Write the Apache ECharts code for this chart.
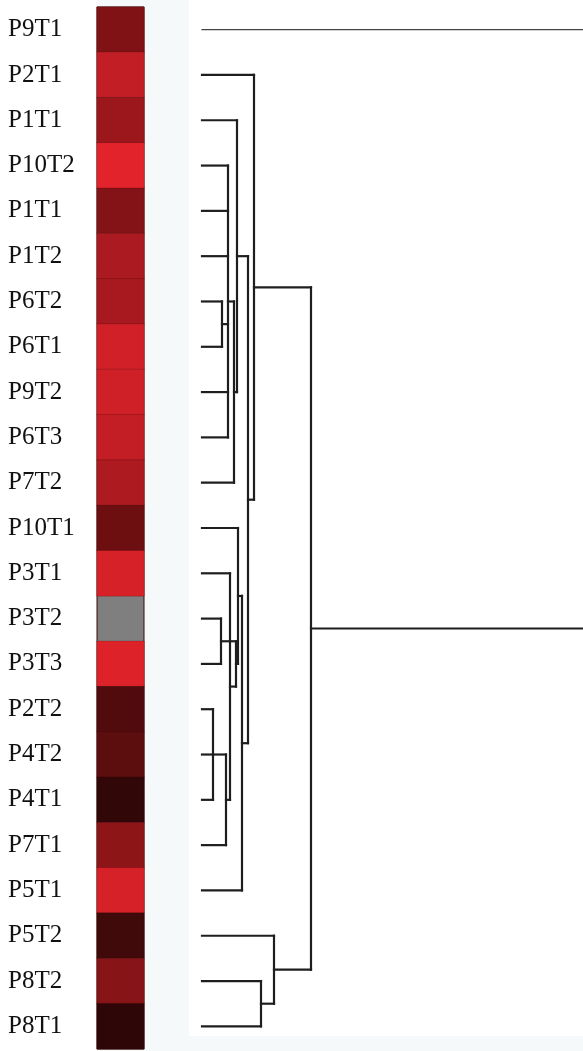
<!DOCTYPE html>
<html>
<head>
<meta charset="utf-8">
<script src="https://cdn.jsdelivr.net/npm/echarts@6/dist/echarts.min.js"></script>
<style>
  html, body { margin: 0; padding: 0; background: #f5f9f9; }
  #chart { width: 583px; height: 1051px; }
</style>
</head>
<body>
<div id="chart"></div>
<script>
// sample names, top to bottom
const leaves = ['P9T1', 'P2T1', 'P1T1', 'P10T2', 'P1T1', 'P1T2', 'P6T2', 'P6T1', 'P9T2', 'P6T3', 'P7T2',
  'P10T1', 'P3T1', 'P3T2', 'P3T3', 'P2T2', 'P4T2', 'P4T1', 'P7T1', 'P5T1', 'P5T2', 'P8T2', 'P8T1'];

// heat values (0 = darkest, 1 = brightest red), null = missing (grey)
const heatValues = [0.42, 0.75, 0.55, 0.97, 0.43, 0.62, 0.6, 0.85, 0.84, 0.76, 0.63,
  0.33, 0.88, null, 0.93, 0.2, 0.25, 0.05, 0.48, 0.88, 0.12, 0.45, 0.04];

// clustering: children of each merge (leaf index or earlier merge id = 23 + k) and merge height
const mergeKids = [
  [6, 7],               // 23
  [3, 4, 5, 23, 8, 9],  // 24
  [24, 10],             // 25
  [2, 25],              // 26
  [13, 14],             // 27
  [15, 16, 17],         // 28
  [28, 18],             // 29
  [12, 29],             // 30
  [27, 30],             // 31
  [11, 31],             // 32
  [32, 19],             // 33
  [26, 33],             // 34
  [1, 34],              // 35
  [21, 22],             // 36
  [20, 36],             // 37
  [35, 37],             // 38
  [0, 38]               // 39 root
];
const mergeHeights = [2.0, 2.6, 3.2, 3.5, 1.9, 1.1, 2.4, 2.8, 3.4, 3.6, 4.0, 4.6, 5.2, 5.9, 7.2, 10.9, 50];

// build dendrogram segments from the tree
const pos = leaves.map((_, i) => ({ x: 0, y: i }));
const segs = [];
mergeKids.forEach((kids, k) => {
  const h = mergeHeights[k];
  const ys = kids.map(c => pos[c].y);
  const lo = Math.min(...ys), hi = Math.max(...ys);
  kids.forEach(c => {
    segs.push([pos[c].x, pos[c].y, h, pos[c].y, c === 0 ? 1 : 0]);
  });
  segs.push([h, lo, h, hi, 0]);
  pos.push({ x: h, y: (lo + hi) / 2 });
});

const heatData = heatValues.map((v, i) => [0, i, v == null ? '-' : v]);

const chart = echarts.init(document.getElementById('chart'));
chart.setOption({
  backgroundColor: '#f5f9f9',
  animation: false,
  graphic: [
    { type: 'rect', silent: true, z: -10, shape: { x: 0, y: 0, width: 97, height: 1051 }, style: { fill: '#ffffff' } },
    { type: 'rect', silent: true, z: -10, shape: { x: 189, y: 0, width: 394, height: 1036 }, style: { fill: '#ffffff' } }
  ],
  grid: [
    { left: 97, top: 7, width: 47, height: 1042, show: true, backgroundColor: '#7f7f7f', borderColor: '#3a0a0a', borderWidth: 1 },
    { left: 190, top: 7, right: 0, height: 1042 }
  ],
  xAxis: [
    { gridIndex: 0, type: 'category', data: ['v'], show: false },
    { gridIndex: 1, type: 'value', min: -1.2, max: 38.1, show: false }
  ],
  yAxis: [
    {
      gridIndex: 0, type: 'category', data: leaves, inverse: true,
      axisLine: { show: false }, axisTick: { show: false },
      axisLabel: {
        align: 'left', margin: 89, fontSize: 25, color: '#111',
        fontFamily: '"Liberation Serif", "Times New Roman", serif', interval: 0
      }
    },
    { gridIndex: 1, type: 'value', min: -0.5, max: 22.5, inverse: true, show: false }
  ],
  visualMap: {
    show: false, min: 0, max: 1, seriesIndex: 0,
    inRange: { color: ['#260506', '#6e0f11', '#b51c22', '#e8242c'] }
  },
  series: [
    {
      type: 'heatmap', xAxisIndex: 0, yAxisIndex: 0, data: heatData,
      itemStyle: { borderColor: 'rgba(40,0,0,0.35)', borderWidth: 0.5 }
    },
    {
      type: 'custom', xAxisIndex: 1, yAxisIndex: 1, clip: true,
      data: segs,
      renderItem: function (params, api) {
        const a = api.coord([api.value(0), api.value(1)]);
        const b = api.coord([api.value(2), api.value(3)]);
        const thin = api.value(4) === 1;
        return {
          type: 'line',
          shape: { x1: a[0], y1: a[1], x2: b[0], y2: b[1] },
          style: { stroke: thin ? '#444' : '#1e1e1e', lineWidth: thin ? 1.2 : 2.2, lineCap: 'square' }
        };
      }
    }
  ]
});
</script>
</body>
</html>
